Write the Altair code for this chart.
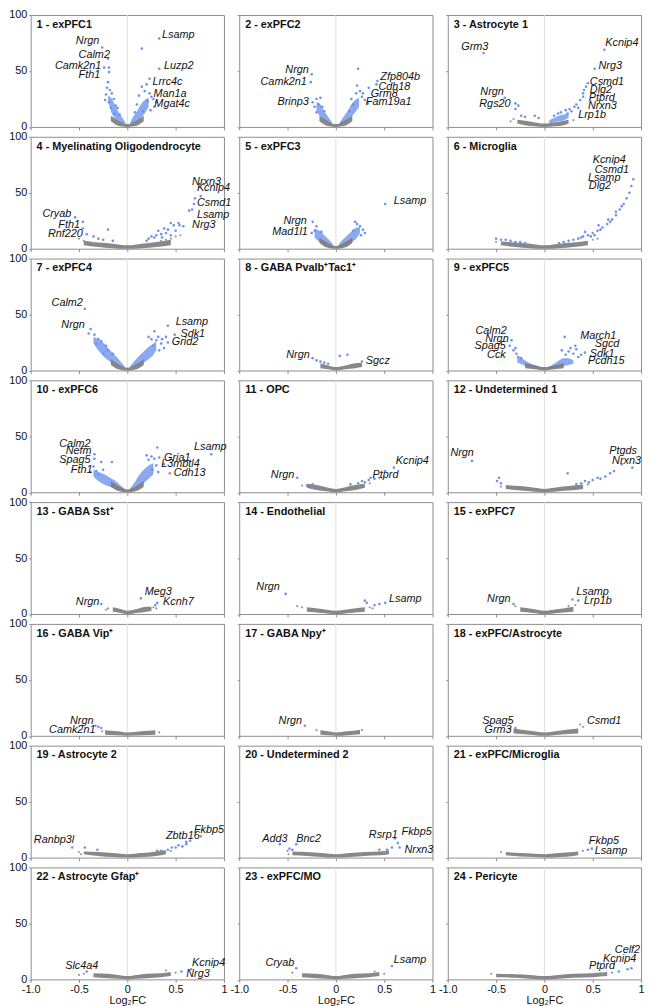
import altair as alt
import pandas as pd

FONT = "Liberation Sans, Arial, Helvetica, sans-serif"
BLUE = "#6d93ec"
CORE_GRAY = "#7b7b7b"
PT_GRAY = "#9b9b9b"

TITLES = [
    "1 - exPFC1", "2 - exPFC2", "3 - Astrocyte 1",
    "4 - Myelinating Oligodendrocyte", "5 - exPFC3", "6 - Microglia",
    "7 - exPFC4", "8 - GABA Pvalb⁺Tac1⁺", "9 - exPFC5",
    "10 - exPFC6", "11 - OPC", "12 - Undetermined 1",
    "13 - GABA Sst⁺", "14 - Endothelial", "15 - exPFC7",
    "16 - GABA Vip⁺", "17 - GABA Npy⁺", "18 - exPFC/Astrocyte",
    "19 - Astrocyte 2", "20 - Undetermined 2", "21 - exPFC/Microglia",
    "22 - Astrocyte Gfap⁺", "23 - exPFC/MO", "24 - Pericyte",
]

# dense grey cloud of non-significant genes: (log2FC, lower -log10p, upper -log10p)
V_X = [-0.17, -0.12, -0.06, 0, 0.06, 0.12, 0.17]
V_LO = [5, 2, 0.5, 0, 0.5, 2, 5]
V_HI = [10, 7, 4, 2.5, 4, 7, 10]
CORE = {
    1: (V_X, V_LO, V_HI), 2: (V_X, V_LO, V_HI),
    3: ([-0.28, -0.2, -0.1, 0, 0.1, 0.2, 0.25], [3, 1.5, 0.5, 0, 0.5, 1.5, 3], [6.5, 5.5, 4, 3, 4, 5.5, 6.5]),
    4: ([-0.45, -0.3, -0.15, 0, 0.15, 0.3, 0.45], [3, 1.5, 0.5, 0, 0.5, 1.5, 3], [7, 5.5, 4.5, 3, 4.5, 6, 8]),
    5: (V_X, V_LO, V_HI),
    6: ([-0.45, -0.3, -0.15, 0, 0.15, 0.3, 0.45], [3, 1.5, 0.5, 0, 0.5, 1.5, 3], [6.5, 5.5, 4.5, 3, 4.5, 5.5, 7]),
    7: (V_X, V_LO, V_HI),
    8: ([-0.16, -0.08, 0, 0.1, 0.2, 0.27], [2, 1, 0, 1, 2, 3], [6.5, 4.5, 3, 4.5, 6.5, 7]),
    9: ([-0.2, -0.1, 0, 0.1, 0.2], [2, 1, 0, 1, 2], [6.5, 4.5, 3, 4.5, 6.5]),
    10: (V_X, V_LO, V_HI),
    11: ([-0.3, -0.2, -0.1, 0, 0.1, 0.2, 0.3], [4, 2, 1, 0, 1, 2, 4], [7.5, 6.5, 4.5, 3, 4.5, 6.5, 7.5]),
    12: ([-0.4, -0.25, -0.1, 0, 0.1, 0.25, 0.4], [3, 1.5, 0.5, 0, 0.5, 1.5, 3], [6.5, 5.5, 4, 3, 4, 5.5, 7]),
    13: ([-0.15, -0.07, 0, 0.1, 0.2, 0.25], [2, 1, 0, 1, 2, 3], [6, 4.5, 3, 4.5, 6.5, 6.5]),
    14: ([-0.3, -0.15, 0, 0.15, 0.3], [2, 1, 0, 1, 2], [6, 4.5, 3, 4.5, 6]),
    15: ([-0.25, -0.12, 0, 0.15, 0.3], [2, 1, 0, 1, 2], [6, 4.5, 3, 4.5, 6.5]),
    16: ([-0.23, -0.1, 0, 0.15, 0.29], [1, 0.5, 0, 0.5, 1], [5, 4, 3, 4, 5]),
    17: ([-0.16, -0.08, 0, 0.12, 0.25], [1, 0.5, 0, 0.5, 1.5], [5, 4, 3, 4, 5.5]),
    18: ([-0.32, -0.15, 0, 0.15, 0.35], [2, 1, 0, 1, 2], [6.5, 4.5, 3, 4.5, 6.5]),
    19: ([-0.45, -0.3, -0.15, 0, 0.15, 0.3, 0.4], [3, 1.5, 0.5, 0, 0.5, 1.5, 3], [5.5, 5, 4, 3, 4, 5.5, 6.5]),
    20: ([-0.45, -0.3, -0.15, 0, 0.15, 0.3, 0.45, 0.55], [2, 1.5, 0.5, 0, 0.5, 1.5, 2, 3], [5.5, 5, 4, 3, 4, 5, 5.5, 6.5]),
    21: ([-0.4, -0.25, -0.1, 0, 0.15, 0.3, 0.35], [2, 1, 0.5, 0, 0.5, 1.5, 2], [5, 4, 3.5, 3, 4, 5, 5.5]),
    22: ([-0.35, -0.2, -0.1, 0, 0.1, 0.2, 0.35, 0.45], [2, 1, 0.5, 0, 0.5, 1, 2, 3], [5.5, 5, 4, 3, 4, 5, 5.5, 6.5]),
    23: ([-0.35, -0.2, -0.1, 0, 0.1, 0.2, 0.35, 0.45], [2, 1, 0.5, 0, 0.5, 1, 2, 3], [5.5, 5, 4, 3, 4, 5, 5.5, 6.5]),
    24: ([-0.5, -0.3, -0.15, 0, 0.15, 0.3, 0.5, 0.65], [2, 1.5, 0.5, 0, 0.5, 1.5, 2, 3], [5, 4.5, 4, 3, 4, 5, 5.5, 6.5]),
}

# dense clusters of significant genes: (log2FC, lower, upper)
BLUE_BANDS = {
    1: [([-0.2, -0.17, -0.13, -0.09, -0.05, -0.02], [24, 14, 8, 5, 3, 2], [28, 26, 20, 13, 8, 4]),
        ([0.03, 0.06, 0.1, 0.14, 0.18, 0.22], [2, 3, 5, 8, 12, 18], [4, 9, 14, 20, 24, 26])],
    2: [([-0.2, -0.16, -0.12, -0.08, -0.04], [14, 9, 6, 3, 2], [22, 20, 14, 9, 4]),
        ([0.04, 0.08, 0.12, 0.16, 0.2, 0.24], [2, 3, 6, 9, 13, 18], [4, 9, 14, 20, 24, 26])],
    3: [([0.05, 0.1, 0.15, 0.2, 0.25], [3, 4, 5, 6, 8], [6, 8, 10, 11, 12])],
    5: [([-0.22, -0.17, -0.12, -0.07, -0.03], [10, 6, 4, 2, 1], [18, 16, 12, 8, 4]),
        ([0.03, 0.07, 0.12, 0.17, 0.22, 0.25], [1, 2, 4, 6, 10, 14], [4, 8, 12, 16, 19, 19])],
    7: [([-0.35, -0.3, -0.24, -0.18, -0.12, -0.07, -0.03], [24, 18, 12, 8, 5, 3, 2], [30, 28, 24, 18, 13, 8, 4]),
        ([0.03, 0.07, 0.12, 0.17, 0.22, 0.27, 0.3], [2, 3, 5, 7, 10, 14, 18], [4, 8, 13, 17, 21, 24, 26])],
    9: [([-0.28, -0.22, -0.16, -0.1, -0.05], [7, 5, 3, 2, 1], [12, 10, 7, 5, 3.5]),
        ([0.05, 0.1, 0.15, 0.2, 0.25, 0.3], [1, 2, 3, 4, 5, 6], [3.5, 6, 9, 11, 11, 9])],
    10: [([-0.35, -0.3, -0.24, -0.18, -0.12, -0.07, -0.03], [14, 10, 7, 5, 3, 2, 1], [20, 18, 16, 13, 10, 6, 3.5]),
         ([0.03, 0.07, 0.12, 0.17, 0.22, 0.27], [1, 3, 5, 8, 12, 16], [3.5, 8, 15, 20, 24, 26])],
}

BLUE_PTS = {
    1: [(-0.26, 71), (-0.2, 61), (-0.24, 53), (-0.19, 53), (-0.19, 49), (-0.2, 40), (-0.21, 35), (-0.18, 33),
        (-0.22, 29), (-0.16, 30), (-0.23, 24), (-0.19, 22), (-0.14, 25), (-0.12, 19), (-0.1, 17), (-0.17, 17),
        (-0.08, 11), (-0.13, 12), (0.33, 79), (0.15, 70), (0.33, 52), (0.23, 43), (0.2, 38), (0.15, 36),
        (0.23, 30), (0.25, 27), (0.21, 23), (0.27, 25), (0.18, 32), (0.12, 28), (0.28, 18), (0.24, 15),
        (0.1, 20), (0.16, 14), (0.3, 22), (0.08, 13)],
    2: [(-0.25, 47), (-0.26, 40), (-0.24, 22), (-0.2, 25), (-0.16, 26), (-0.22, 18), (-0.18, 20), (-0.14, 18),
        (-0.12, 14), (-0.2, 13), (0.23, 52), (0.43, 41), (0.42, 38), (0.34, 35), (0.22, 37), (0.21, 30),
        (0.25, 32), (0.28, 30), (0.16, 25), (0.3, 24), (0.27, 27), (0.18, 20), (0.33, 21), (0.14, 14)],
    3: [(-0.63, 66), (-0.41, 26), (-0.3, 21), (-0.27, 19), (-0.3, 16), (-0.24, 10), (-0.2, 9), (-0.1, 10),
        (-0.06, 8), (0.62, 69), (0.52, 52), (0.45, 39), (0.43, 36), (0.41, 33), (0.4, 30), (0.4, 27),
        (0.37, 24), (0.33, 20), (0.31, 18), (0.26, 16), (0.22, 15), (0.17, 13), (0.14, 12), (0.28, 14),
        (0.24, 12), (0.1, 10), (0.35, 17)],
    4: [(-0.54, 28), (-0.46, 24), (-0.46, 18), (-0.42, 13), (-0.35, 11), (-0.3, 9), (-0.2, 17), (-0.25, 8),
        (-0.15, 7), (0.76, 47), (0.7, 45), (0.69, 40), (0.67, 35), (0.64, 34), (0.53, 23), (0.45, 23),
        (0.48, 21), (0.54, 21), (0.38, 18), (0.4, 14), (0.35, 13), (0.32, 16), (0.28, 10), (0.25, 11),
        (0.22, 9), (0.42, 17), (0.3, 12), (0.5, 16), (0.45, 12), (0.36, 10), (0.2, 7), (0.58, 20)],
    5: [(-0.24, 24), (-0.22, 16), (-0.2, 20), (-0.25, 14), (-0.15, 15), (0.51, 40), (0.22, 22), (0.25, 20),
        (0.28, 17), (0.2, 24), (0.3, 14), (0.18, 16), (0.26, 12)],
    6: [(-0.5, 9), (-0.45, 8), (-0.4, 8), (-0.35, 7), (-0.3, 6), (-0.25, 6), (-0.2, 5),
        (0.15, 5), (0.2, 6), (0.25, 7), (0.3, 8), (0.35, 9), (0.4, 11), (0.45, 12), (0.5, 14), (0.55, 16),
        (0.6, 19), (0.65, 22), (0.7, 26), (0.74, 30), (0.78, 35), (0.82, 40), (0.85, 45), (0.88, 50),
        (0.9, 56), (0.92, 62), (0.42, 15), (0.52, 12), (0.58, 17), (0.66, 26), (0.74, 33), (0.38, 10),
        (0.48, 11), (0.56, 21), (0.8, 38), (0.68, 24)],
    7: [(-0.44, 55), (-0.38, 37), (-0.34, 32), (-0.3, 28), (-0.27, 26), (-0.22, 22), (-0.2, 18), (-0.32, 24),
        (-0.15, 15), (-0.25, 15), (-0.4, 33), (0.42, 40), (0.49, 32), (0.42, 25), (0.28, 35), (0.32, 30),
        (0.3, 27), (0.35, 24), (0.25, 28), (0.38, 20), (0.33, 18), (0.22, 30), (0.36, 28), (0.27, 22),
        (0.4, 30)],
    8: [(-0.24, 11), (-0.2, 9), (-0.16, 8), (-0.12, 7), (-0.08, 6), (0.04, 13), (0.12, 14), (0.27, 8)],
    9: [(-0.34, 27), (-0.36, 22), (-0.32, 18), (-0.29, 15), (-0.27, 12), (-0.24, 11), (-0.3, 20),
        (0.21, 30), (0.33, 19), (0.42, 16), (0.27, 20), (0.3, 15), (0.25, 17), (0.35, 12), (0.38, 14),
        (0.22, 14), (0.18, 18), (0.32, 22)],
    10: [(-0.34, 34), (-0.34, 30), (-0.35, 23), (-0.32, 19), (-0.27, 27), (-0.16, 27), (-0.3, 16),
         (-0.38, 18), (-0.25, 20), (0.31, 40), (0.33, 31), (0.38, 25), (0.44, 17), (0.87, 34), (0.25, 32),
         (0.28, 30), (0.3, 24), (0.22, 29), (0.26, 20), (0.32, 18), (0.2, 33)],
    11: [(-0.4, 13), (-0.3, 6), (-0.24, 7), (0.15, 7), (0.23, 8), (0.27, 10), (0.34, 11), (0.36, 13),
         (0.45, 13), (0.51, 19), (0.6, 22), (0.3, 9), (0.4, 12)],
    12: [(-0.75, 28), (-0.49, 10), (-0.47, 13), (-0.45, 8), (0.8, 25), (0.91, 22), (0.72, 19), (0.68, 17),
         (0.63, 14), (0.55, 13), (0.5, 11), (0.42, 10), (0.24, 17), (0.33, 7), (0.46, 9), (0.58, 12),
         (0.38, 8)],
    13: [(-0.27, 9), (0.14, 14), (0.31, 10), (0.29, 8)],
    14: [(-0.52, 18), (0.51, 10), (0.45, 9), (0.4, 8), (0.3, 12), (0.32, 10)],
    15: [(-0.32, 9), (0.29, 13), (0.35, 12)],
    16: [(-0.33, 9), (-0.27, 7), (-0.3, 8)],
    17: [(-0.32, 9)],
    18: [(-0.3, 7)],
    19: [(-0.57, 9), (-0.44, 9), (-0.31, 7), (0.76, 19), (0.61, 14), (0.61, 12), (0.57, 10), (0.5, 9),
         (0.46, 9), (0.42, 7), (0.35, 6), (0.31, 6), (0.53, 11), (0.65, 15)],
    20: [(-0.58, 12), (-0.41, 12), (-0.48, 8), (-0.45, 7), (0.61, 17), (0.64, 13), (0.58, 9), (0.53, 7),
         (0.66, 9), (0.45, 7)],
    21: [(0.45, 7), (0.49, 8)],
    22: [(-0.42, 7), (0.56, 7), (0.66, 9)],
    23: [(-0.41, 10), (0.58, 12)],
    24: [(0.77, 7), (0.86, 9), (0.9, 10)],
}

GRAY_PTS = {
    3: [(-0.35, 5), (-0.32, 7), (0.3, 6)],
    4: [(-0.5, 9), (-0.45, 7), (-0.4, 6), (0.4, 8), (0.45, 9), (0.5, 11), (0.35, 7), (-0.35, 5), (0.55, 12)],
    6: [(-0.5, 6), (0.5, 8), (0.55, 9)],
    11: [(-0.35, 6), (0.35, 8)],
    12: [(-0.45, 5), (0.45, 7)],
    13: [(-0.2, 5), (-0.22, 4), (0.27, 6), (0.3, 5)],
    14: [(-0.35, 6), (-0.4, 7), (0.35, 6), (0.38, 5)],
    15: [(-0.3, 7), (0.32, 8), (0.25, 7)],
    16: [(-0.26, 4), (0.33, 3)],
    17: [(-0.2, 5), (0.27, 5)],
    18: [(0.37, 10), (0.4, 8), (-0.35, 6)],
    19: [(-0.5, 5), (-0.48, 3), (0.45, 6)],
    20: [(-0.49, 3), (0.5, 5), (-0.5, 6)],
    21: [(-0.45, 5), (0.4, 6)],
    22: [(-0.45, 5), (0.5, 6), (0.4, 8), (-0.5, 4)],
    23: [(-0.45, 6), (0.5, 5), (0.4, 7)],
    24: [(-0.55, 5), (0.7, 6), (0.6, 5)],
}

# gene annotations: (gene, log2FC anchor, -log10p anchor, side)
LABELS = {
    1: [("Nrgn", -0.29, 77, "right"), ("Calm2", -0.18, 64, "right"), ("Camk2n1", -0.27, 54, "right"),
        ("Fth1", -0.28, 46, "right"), ("Lsamp", 0.36, 82, "left"), ("Luzp2", 0.38, 54, "left"),
        ("Lrrc4c", 0.26, 40, "left"), ("Man1a", 0.27, 29, "left"), ("Mgat4c", 0.28, 20, "left")],
    2: [("Nrgn", -0.28, 51, "right"), ("Camk2n1", -0.3, 40, "right"), ("Brinp3", -0.28, 22, "right"),
        ("Zfp804b", 0.46, 45, "left"), ("Cdh18", 0.44, 36, "left"), ("Grm8", 0.36, 29, "left"),
        ("Fam19a1", 0.31, 22, "left")],
    3: [("Grm3", -0.58, 71, "right"), ("Nrgn", -0.42, 31, "right"), ("Rgs20", -0.35, 20, "right"),
        ("Kcnip4", 0.63, 75, "left"), ("Nrg3", 0.56, 54, "left"), ("Csmd1", 0.47, 40, "left"),
        ("Dlg2", 0.47, 33, "left"), ("Ptprd", 0.46, 26, "left"), ("Nrxn3", 0.45, 19, "left"),
        ("Lrp1b", 0.35, 11, "left")],
    4: [("Cryab", -0.58, 31, "right"), ("Fth1", -0.49, 21, "right"), ("Rnf220", -0.46, 13, "right"),
        ("Nrxn3", 0.67, 60, "left"), ("Kcnip4", 0.72, 54, "left"), ("Csmd1", 0.72, 41, "left"),
        ("Lsamp", 0.72, 30, "left"), ("Nrg3", 0.67, 21, "left")],
    5: [("Lsamp", 0.6, 43, "left"), ("Nrgn", -0.3, 25, "right"), ("Mad1l1", -0.29, 15, "right")],
    6: [("Kcnip4", 0.5, 79, "left"), ("Csmd1", 0.52, 70, "left"), ("Lsamp", 0.45, 63, "left"),
        ("Dlg2", 0.46, 56, "left")],
    7: [("Calm2", -0.46, 60, "right"), ("Nrgn", -0.44, 41, "right"), ("Lsamp", 0.5, 43, "left"),
        ("Sdk1", 0.55, 33, "left"), ("Grid2", 0.46, 25, "left")],
    8: [("Nrgn", -0.27, 14, "right"), ("Sgcz", 0.31, 8, "left")],
    9: [("Calm2", -0.39, 35, "right"), ("Nrgn", -0.37, 28, "right"), ("Spag5", -0.4, 22, "right"),
        ("Cck", -0.4, 14, "right"), ("March1", 0.37, 31, "left"), ("Sgcd", 0.52, 24, "left"),
        ("Sdk1", 0.47, 15, "left"), ("Pcdh15", 0.45, 8, "left")],
    10: [("Calm2", -0.38, 43, "right"), ("Nefm", -0.37, 37, "right"), ("Spag5", -0.38, 29, "right"),
         ("Fth1", -0.36, 20, "right"), ("Lsamp", 0.69, 40, "left"), ("Gria1", 0.38, 31, "left"),
         ("L3mbtl4", 0.35, 25, "left"), ("Cdh13", 0.48, 17, "left")],
    11: [("Nrgn", -0.43, 15, "right"), ("Kcnip4", 0.62, 28, "left"), ("Ptprd", 0.38, 15, "left")],
    12: [("Nrgn", -0.73, 35, "right"), ("Ptgds", 0.67, 37, "left"), ("Nrxn3", 0.7, 28, "left")],
    13: [("Nrgn", -0.29, 11, "right"), ("Meg3", 0.18, 20, "left"), ("Kcnh7", 0.37, 11, "left")],
    14: [("Nrgn", -0.58, 24, "right"), ("Lsamp", 0.55, 13, "left")],
    15: [("Nrgn", -0.35, 13, "right"), ("Lsamp", 0.33, 20, "left"), ("Lrp1b", 0.41, 12, "left")],
    16: [("Nrgn", -0.35, 13, "right"), ("Camk2n1", -0.33, 5, "right")],
    17: [("Nrgn", -0.35, 13, "right")],
    18: [("Spag5", -0.32, 13, "right"), ("Grm3", -0.34, 5, "right"), ("Csmd1", 0.44, 13, "left")],
    19: [("Ranbp3l", -0.55, 16, "right"), ("Zbtb16", 0.4, 19, "left"), ("Fkbp5", 0.69, 25, "left")],
    20: [("Add3", -0.5, 17, "right"), ("Bnc2", -0.41, 17, "left"), ("Rsrp1", 0.64, 20, "right"),
         ("Fkbp5", 0.68, 23, "left"), ("Nrxn3", 0.71, 7, "left")],
    21: [("Fkbp5", 0.46, 15, "left"), ("Lsamp", 0.52, 6, "left")],
    22: [("Slc4a4", -0.3, 12, "right"), ("Kcnip4", 0.67, 15, "left"), ("Nrg3", 0.61, 5, "left")],
    23: [("Cryab", -0.43, 15, "right"), ("Lsamp", 0.6, 17, "left")],
    24: [("Ptprd", 0.73, 12, "right"), ("Kcnip4", 0.95, 18, "right"), ("Celf2", 0.99, 26, "right")],
}

X_TICKS = [-1, -0.5, 0, 0.5, 1]
Y_TICKS = [0, 50, 100]
XS = alt.Scale(domain=[-1, 1], nice=False, zero=False)
YS = alt.Scale(domain=[0, 100], nice=False, zero=False)
X_LABEL_EXPR = ("datum.value == -1 ? '-1.0' : datum.value == -0.5 ? '-0.5' : "
                "datum.value == 0 ? '0' : datum.value == 0.5 ? '0.5' : '1'")
PANEL_W = 196
PANEL_H = 113.5


def make_panel(i, show_x, show_y):
    if show_x:
        xax = alt.Axis(values=X_TICKS, labels=True, labelExpr=X_LABEL_EXPR, title="Log₂FC",
                       labelPadding=1, titlePadding=0)
    else:
        xax = alt.Axis(values=X_TICKS, labels=False)
    if show_y:
        yax = alt.Axis(values=Y_TICKS, labels=True, tickSize=2)
    else:
        yax = alt.Axis(values=Y_TICKS, labels=False, tickSize=2)

    def X(field):
        return alt.X(field, type="quantitative", scale=XS, axis=xax, title="Log₂FC" if show_x else None)

    def Y(field):
        return alt.Y(field, type="quantitative", scale=YS, axis=yax, title=None)

    layers = []
    zero = alt.Chart(pd.DataFrame({"x": [0]})).mark_rule(
        color="#dedede", strokeWidth=1).encode(x=X("x"))
    layers.append(zero)

    if i in BLUE_BANDS:
        rows = []
        for s, (xs, lo, hi) in enumerate(BLUE_BANDS[i]):
            for a, b, c in zip(xs, lo, hi):
                rows.append({"seg": s, "x": a, "lo": b, "hi": c})
        layers.append(alt.Chart(pd.DataFrame(rows)).mark_area(
            color=BLUE, opacity=0.8, interpolate="monotone").encode(
            x=X("x"), y=Y("lo"), y2="hi", detail="seg:N"))

    xs, lo, hi = CORE[i]
    core_df = pd.DataFrame({"x": xs, "lo": lo, "hi": hi})
    layers.append(alt.Chart(core_df).mark_area(
        color=CORE_GRAY, opacity=0.9, interpolate="monotone").encode(
        x=X("x"), y=Y("lo"), y2="hi"))

    if i in GRAY_PTS:
        g = pd.DataFrame(GRAY_PTS[i], columns=["x", "y"])
        layers.append(alt.Chart(g).mark_circle(size=5, color=PT_GRAY, opacity=1).encode(
            x=X("x"), y=Y("y")))

    if i in BLUE_PTS:
        b = pd.DataFrame(BLUE_PTS[i], columns=["x", "y"])
        layers.append(alt.Chart(b).mark_circle(size=7, color=BLUE, opacity=1).encode(
            x=X("x"), y=Y("y")))

    lab = pd.DataFrame(LABELS.get(i, []), columns=["gene", "x", "y", "side"])
    for side in ("left", "right"):
        d = lab[lab["side"] == side]
        if len(d):
            layers.append(alt.Chart(d).mark_text(
                align=side, baseline="middle", font=FONT, fontSize=11,
                fontStyle="italic", color="#111").encode(
                x=X("x"), y=Y("y"), text="gene:N"))

    title = alt.Chart(pd.DataFrame({"t": [TITLES[i - 1]]})).mark_text(
        align="left", baseline="middle", font=FONT, fontSize=11,
        fontWeight="bold", color="#111").encode(
        x=alt.value(6), y=alt.value(10), text="t:N")
    layers.append(title)

    return alt.layer(*layers).properties(width=PANEL_W, height=PANEL_H)


panels = []
for r in range(8):
    for c in range(3):
        i = r * 3 + c + 1
        panels.append(make_panel(i, show_x=(r == 7), show_y=(c == 0)))

chart = alt.concat(
    *panels, columns=3, spacing={"row": 9.5, "column": 15.5}, bounds="flush"
).properties(
    padding={"left": 0, "top": -7, "right": 0, "bottom": 0}
).configure_view(
    stroke="#8c8c8c", strokeWidth=1
).configure_axis(
    domain=False, grid=False, labelFont=FONT, labelFontSize=11, labelColor="#111",
    tickColor="#8c8c8c", tickSize=3, labelPadding=2, labelFlush=False,
    labelOverlap=False, titleFont=FONT, titleFontSize=11, titleFontWeight="normal",
    titleColor="#111", titlePadding=1
)

chart.save("out.html", embed_options={"renderer": "svg", "actions": False})
